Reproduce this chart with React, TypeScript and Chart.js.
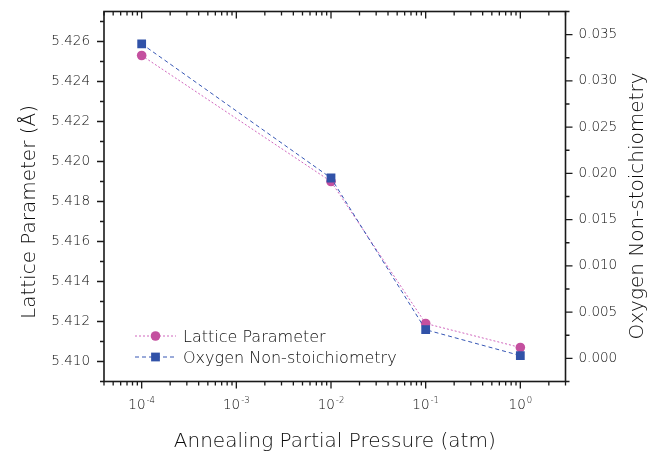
import React, { useEffect, useRef } from 'react';
import { Chart, registerables } from 'chart.js';

Chart.register(...registerables);

// ---- data ----
const pressures = [1e-4, 1e-2, 1e-1, 1];
const latticeParameter = [5.4253, 5.419, 5.4119, 5.4107];
const oxygenNonStoichiometry = [0.034, 0.0195, 0.0031, 0.0003];
const seriesNames = ['Lattice Parameter', 'Oxygen Non-stoichiometry'];

// ---- axes / ticks ----
const xDecadeExponents = [-4, -3, -2, -1, 0];
const latticeTicks = [5.41, 5.412, 5.414, 5.416, 5.418, 5.42, 5.422, 5.424, 5.426];
const oxygenTicks = [0, 0.005, 0.01, 0.015, 0.02, 0.025, 0.03, 0.035];
const xTitle = 'Annealing Partial Pressure (atm)';
const yTitle = 'Lattice Parameter (Å)';
const y1Title = 'Oxygen Non-stoichiometry';

const X_MIN = 4e-5;
const X_MAX = 3;
const Y_MIN = 5.409;
const Y_MAX = 5.4275;
const Y1_MIN = -0.0025;
const Y1_MAX = 0.0375;

const FONT = "'DejaVu Sans', 'Liberation Sans', sans-serif";
const W = '300';
const TEXT = '#0c0c0c';
const AXIS = '#1a1a1a';

const PINK = '#c4509f';
const PINK_LINE = '#d066bd';
const BLUE = '#3152a8';
const BLUE_LINE = '#3656b4';

function drawMarker(ctx: CanvasRenderingContext2D, style: string, x: number, y: number, r: number, color: string) {
  ctx.save();
  ctx.fillStyle = color;
  ctx.beginPath();
  if (style === 'rect') {
    const s = r * Math.SQRT1_2;
    ctx.rect(x - s, y - s, 2 * s, 2 * s);
  } else {
    ctx.arc(x, y, r, 0, Math.PI * 2);
  }
  ctx.fill();
  ctx.restore();
}

const decorPlugin = {
  id: 'decor',
  afterDraw(chart: any) {
    const ctx: CanvasRenderingContext2D = chart.ctx;
    const { left, right, top, bottom } = chart.chartArea;
    const xs = chart.scales.x;
    const ys = chart.scales.y;
    const ys1 = chart.scales.y1;
    ctx.save();

    // frame
    ctx.strokeStyle = AXIS;
    ctx.lineWidth = 1.6;
    ctx.strokeRect(left, top, right - left, bottom - top);

    const MAJ = 7;
    const MIN = 4;
    ctx.lineWidth = 1.3;
    ctx.beginPath();
    // x ticks (bottom outward, top inward)
    for (let d = -5; d <= 0; d++) {
      for (let m = 1; m <= 9; m++) {
        const v = m * Math.pow(10, d);
        if (v < X_MIN * 0.999 || v > X_MAX * 1.001) continue;
        const px = xs.getPixelForValue(v);
        const len = m === 1 ? MAJ : MIN;
        ctx.moveTo(px, bottom);
        ctx.lineTo(px, bottom + len);
        ctx.moveTo(px, top);
        ctx.lineTo(px, top + len);
      }
    }
    // left y ticks (outward)
    for (let k = 5409; k <= 5427; k++) {
      const v = k / 1000;
      if (v < Y_MIN - 1e-9 || v > Y_MAX + 1e-9) continue;
      const py = ys.getPixelForValue(v);
      const len = k % 2 === 0 ? MAJ : MIN;
      ctx.moveTo(left - len, py);
      ctx.lineTo(left, py);
    }
    // right y ticks (outward)
    for (let m = -1; m <= 15; m++) {
      const v = m * 0.0025;
      if (v < Y1_MIN - 1e-9 || v > Y1_MAX + 1e-9) continue;
      const py = ys1.getPixelForValue(v);
      const len = Math.abs(m) % 2 === 0 ? MAJ : MIN;
      ctx.moveTo(right, py);
      ctx.lineTo(right + len, py);
    }
    ctx.stroke();

    // x tick labels 10^n
    ctx.fillStyle = TEXT;
    ctx.textBaseline = 'alphabetic';
    ctx.textAlign = 'left';
    for (const e of xDecadeExponents) {
      const px = xs.getPixelForValue(Math.pow(10, e));
      ctx.font = `${W} 13.5px ${FONT}`;
      const base = '10';
      const wb = ctx.measureText(base).width;
      ctx.font = `${W} 8.5px ${FONT}`;
      const ex = String(e);
      const we = ctx.measureText(ex).width;
      const x0 = px - (wb + we + 1) / 2;
      ctx.font = `${W} 13.5px ${FONT}`;
      ctx.fillText(base, x0, 408.5);
      ctx.font = `${W} 8.5px ${FONT}`;
      ctx.fillText(ex, x0 + wb + 1, 402.5);
    }

    // axis titles
    ctx.font = `${W} 20px ${FONT}`;
    ctx.textAlign = 'center';
    ctx.fillText(xTitle, (left + right) / 2, 447);

    ctx.save();
    ctx.translate(35, 212);
    ctx.rotate(-Math.PI / 2);
    ctx.fillText(yTitle, 0, 0);
    ctx.restore();

    ctx.save();
    ctx.translate(643, 206);
    ctx.rotate(-Math.PI / 2);
    ctx.fillText(y1Title, 0, 0);
    ctx.restore();

    // legend
    const legendRows = [336, 357];
    chart.data.datasets.forEach((ds: any, i: number) => {
      const cy = legendRows[i];
      ctx.save();
      ctx.strokeStyle = ds.borderColor;
      ctx.lineWidth = ds.borderWidth;
      ctx.setLineDash(ds.borderDash || []);
      ctx.beginPath();
      ctx.moveTo(135, cy);
      ctx.lineTo(176, cy);
      ctx.stroke();
      ctx.restore();
      drawMarker(ctx, ds.pointStyle, 155.5, cy, ds.pointRadius, ds.pointBackgroundColor);
      ctx.font = `${W} 16px ${FONT}`;
      ctx.fillStyle = TEXT;
      ctx.textAlign = 'left';
      ctx.textBaseline = 'alphabetic';
      ctx.fillText(ds.label, 183, cy + 6);
    });

    ctx.restore();
  },
};

function zeroPad(s: any) {
  s.paddingTop = 0;
  s.paddingBottom = 0;
  s.paddingLeft = 0;
  s.paddingRight = 0;
}

export default function App() {
  const ref = useRef<HTMLCanvasElement | null>(null);

  useEffect(() => {
    if (!ref.current) return;
    const chart = new Chart(ref.current, {
      type: 'line',
      data: {
        datasets: [
          {
            label: seriesNames[0],
            data: pressures.map((p, i) => ({ x: p, y: latticeParameter[i] })),
            yAxisID: 'y',
            borderColor: PINK_LINE,
            backgroundColor: PINK,
            pointBackgroundColor: PINK,
            pointBorderColor: PINK,
            pointBorderWidth: 0,
            borderWidth: 1,
            borderDash: [2, 2],
            pointStyle: 'circle',
            pointRadius: 4.8,
            tension: 0,
            order: 1,
          },
          {
            label: seriesNames[1],
            data: pressures.map((p, i) => ({ x: p, y: oxygenNonStoichiometry[i] })),
            yAxisID: 'y1',
            borderColor: BLUE_LINE,
            backgroundColor: BLUE,
            pointBackgroundColor: BLUE,
            pointBorderColor: BLUE,
            pointBorderWidth: 0,
            borderWidth: 1,
            borderDash: [4, 3],
            pointStyle: 'rect',
            pointRadius: 6.2,
            tension: 0,
            order: 0,
          },
        ] as any,
      },
      options: {
        animation: false,
        responsive: false,
        devicePixelRatio: 1,
        layout: { padding: { top: 11.5, left: 0, right: 0, bottom: 0 } },
        plugins: {
          legend: { display: false },
          tooltip: { enabled: false },
          title: { display: false },
        },
        scales: {
          x: {
            type: 'logarithmic',
            position: 'bottom',
            min: X_MIN,
            max: X_MAX,
            ticks: { display: false },
            grid: { display: false, drawTicks: false },
            border: { display: false },
            afterFit: (s: any) => {
              s.height = 69.5;
              zeroPad(s);
            },
          },
          y: {
            type: 'linear',
            position: 'left',
            min: Y_MIN,
            max: Y_MAX,
            afterBuildTicks: (s: any) => {
              s.ticks = latticeTicks.map((v) => ({ value: v }));
            },
            ticks: {
              autoSkip: false,
              padding: 14,
              color: TEXT,
              font: { family: FONT, size: 13.5, weight: W },
              callback: (v: any) => Number(v).toFixed(3),
            },
            grid: { display: false, drawTicks: false },
            border: { display: false },
            afterFit: (s: any) => {
              s.width = 104;
              zeroPad(s);
            },
          },
          y1: {
            type: 'linear',
            position: 'right',
            min: Y1_MIN,
            max: Y1_MAX,
            afterBuildTicks: (s: any) => {
              s.ticks = oxygenTicks.map((v) => ({ value: v }));
            },
            ticks: {
              autoSkip: false,
              padding: 13,
              color: TEXT,
              font: { family: FONT, size: 13.5, weight: W },
              callback: (v: any) => Number(v).toFixed(3),
            },
            grid: { display: false, drawTicks: false },
            border: { display: false },
            afterFit: (s: any) => {
              s.width = 99.5;
              zeroPad(s);
            },
          },
        },
      } as any,
      plugins: [decorPlugin],
    });
    return () => chart.destroy();
  }, []);

  return (
    <div style={{ position: 'absolute', left: 0, top: 0, width: 665, height: 451, background: '#fff' }}>
      <canvas ref={ref} width={665} height={451} />
    </div>
  );
}
